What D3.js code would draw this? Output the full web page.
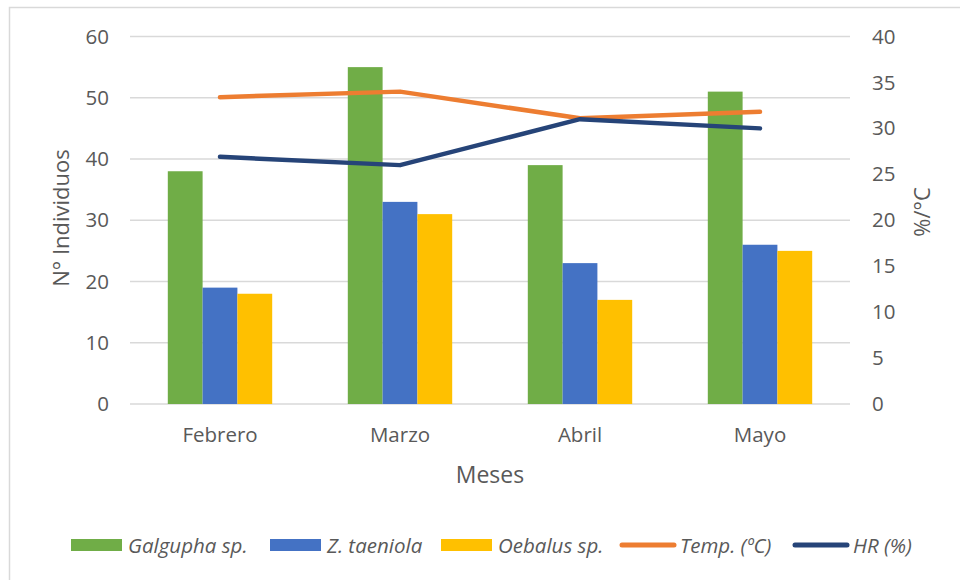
<!DOCTYPE html>
<html>
<head>
<meta charset="utf-8">
<script src="https://cdn.jsdelivr.net/npm/d3@7"></script>
<style>
  body { margin: 0; background: #fff; }
  text { font-family: "Open Sans", "Noto Sans", sans-serif; }
</style>
</head>
<body>
<svg width="960" height="580"></svg>
<script>
const months = ['Febrero', 'Marzo', 'Abril', 'Mayo']
const galgupha = [38, 55, 39, 51]
const zTaeniola = [19, 33, 23, 26]
const oebalus = [18, 31, 17, 25]
const temp = [33.4, 34.0, 31.1, 31.8]
const hr = [26.9, 26.0, 31.0, 30.0]
const leftTicks = [0, 10, 20, 30, 40, 50, 60]
const rightTicks = [0, 5, 10, 15, 20, 25, 30, 35, 40]

const barSeries = [
  { name: 'Galgupha sp.', vals: galgupha, col: '#70AD47' },
  { name: 'Z. taeniola', vals: zTaeniola, col: '#4472C4' },
  { name: 'Oebalus sp.', vals: oebalus, col: '#FFC000' }
]
const lineSeries = [
  { name: 'Temp. (ºC)', vals: temp, col: '#ED7D31' },
  { name: 'HR (%)', vals: hr, col: '#264478' }
]

const svg = d3.select('svg')
const plotL = 130, plotR = 850, plotT = 36.5, plotB = 404

// chart border
svg.append('rect')
  .attr('x', 9.5).attr('y', 7.5)
  .attr('width', 960).attr('height', 580)
  .attr('fill', 'none').attr('stroke', '#d9d9d9').attr('stroke-width', 1.5)

const x0 = d3.scaleBand()
  .domain(months)
  .range([plotL, plotR])
  .paddingInner(0.42)
  .paddingOuter(0.21)

const x1 = d3.scaleBand()
  .domain(barSeries.map(d => d.name))
  .range([0, x0.bandwidth()])

const yL = d3.scaleLinear().domain([0, 60]).range([plotB, plotT])
const yR = d3.scaleLinear().domain([0, 40]).range([plotB, plotT])

// gridlines
svg.append('g')
  .selectAll('line')
  .data(leftTicks)
  .join('line')
  .attr('x1', plotL).attr('x2', plotR)
  .attr('y1', d => yL(d)).attr('y2', d => yL(d))
  .attr('stroke', '#d9d9d9').attr('stroke-width', 1.5)

// axes
const axL = svg.append('g')
  .attr('transform', `translate(${plotL},0)`)
  .call(d3.axisLeft(yL).tickValues(leftTicks).tickSize(0).tickPadding(21))
const axR = svg.append('g')
  .attr('transform', `translate(${plotR},0)`)
  .call(d3.axisRight(yR).tickValues(rightTicks).tickSize(0).tickPadding(22))
const axX = svg.append('g')
  .attr('transform', `translate(0,${plotB})`)
  .call(d3.axisBottom(x0).tickSize(0).tickPadding(23))

for (const ax of [axL, axR, axX]) {
  ax.select('.domain').remove()
  ax.selectAll('text')
    .attr('fill', '#595959')
    .style('font-size', '20.5px')
    .style('font-family', '"Open Sans", "Noto Sans", sans-serif')
}

// bars
const groups = svg.append('g')
  .selectAll('g')
  .data(barSeries)
  .join('g')
  .attr('fill', d => d.col)

groups.selectAll('rect')
  .data(s => s.vals.map((v, i) => ({ m: months[i], v, name: s.name })))
  .join('rect')
  .attr('x', d => x0(d.m) + x1(d.name))
  .attr('width', x1.bandwidth())
  .attr('y', d => yL(d.v))
  .attr('height', d => yL(0) - yL(d.v))

// lines
const lineGen = d3.line()
  .x((d, i) => x0(months[i]) + x0.bandwidth() / 2)
  .y(d => yR(d))

svg.append('g')
  .selectAll('path')
  .data(lineSeries)
  .join('path')
  .attr('d', d => lineGen(d.vals))
  .attr('fill', 'none')
  .attr('stroke', d => d.col)
  .attr('stroke-width', 4.5)
  .attr('stroke-linecap', 'round')
  .attr('stroke-linejoin', 'round')

// axis titles
svg.append('text')
  .attr('transform', 'translate(69,218) rotate(-90)')
  .attr('text-anchor', 'middle')
  .attr('fill', '#595959')
  .style('font-size', '22px')
  .text('N° Individuos')

svg.append('text')
  .attr('transform', 'translate(930,212) rotate(-90)')
  .attr('text-anchor', 'middle')
  .attr('fill', '#595959')
  .style('font-size', '22px')
  .text('%/°C')

svg.append('text')
  .attr('x', 490).attr('y', 483)
  .attr('text-anchor', 'middle')
  .attr('fill', '#595959')
  .style('font-size', '23px')
  .text('Meses')

// legend
const legendItems = [
  { name: barSeries[0].name, col: barSeries[0].col, type: 'bar', x: 71 },
  { name: barSeries[1].name, col: barSeries[1].col, type: 'bar', x: 270 },
  { name: barSeries[2].name, col: barSeries[2].col, type: 'bar', x: 441 },
  { name: lineSeries[0].name, col: lineSeries[0].col, type: 'line', x: 620 },
  { name: lineSeries[1].name, col: lineSeries[1].col, type: 'line', x: 793 }
]
const leg = svg.append('g')
  .selectAll('g')
  .data(legendItems)
  .join('g')
  .attr('transform', d => `translate(${d.x},545)`)

leg.filter(d => d.type === 'bar').append('rect')
  .attr('x', 0).attr('y', -6)
  .attr('width', 51).attr('height', 12)
  .attr('fill', d => d.col)
leg.filter(d => d.type === 'line').append('line')
  .attr('x1', 2).attr('x2', 54)
  .attr('y1', 0).attr('y2', 0)
  .attr('stroke', d => d.col)
  .attr('stroke-width', 5)
  .attr('stroke-linecap', 'round')
leg.append('text')
  .attr('x', d => d.type === 'bar' ? 57 : 60)
  .attr('y', 7.5)
  .attr('fill', '#595959')
  .style('font-size', '20.5px')
  .style('font-style', 'italic')
  .text(d => d.name)
</script>
</body>
</html>
